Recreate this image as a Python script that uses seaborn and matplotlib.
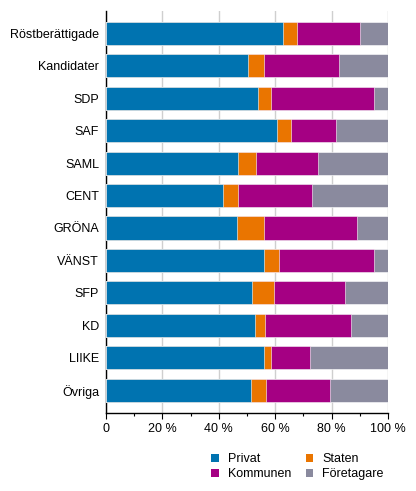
import numpy as np
import pandas as pd
import matplotlib
matplotlib.use("Agg")
import matplotlib.pyplot as plt
import seaborn as sns
from matplotlib.patches import Patch
from matplotlib.ticker import MultipleLocator, FuncFormatter

categories = ["Röstberättigade", "Kandidater", "SDP", "SAF", "SAML", "CENT",
              "GRÖNA", "VÄNST", "SFP", "KD", "LIIKE", "Övriga"]
privat = [62.8, 50.5, 54.0, 60.7, 46.7, 41.4, 46.6, 56.1, 51.8, 52.7, 56.1, 51.3]
staten = [5.1, 5.7, 4.5, 5.0, 6.5, 5.3, 9.3, 5.4, 7.9, 3.7, 2.3, 5.3]
kommunen = [22.1, 26.4, 36.6, 15.8, 22.0, 26.4, 33.0, 33.7, 25.1, 30.6, 13.8, 22.8]
foretagare = [100 - p - s - k for p, s, k in zip(privat, staten, kommunen)]
series_names = ["Privat", "Staten", "Kommunen", "Företagare"]
colors = ["#0073B0", "#EA7500", "#A50083", "#8A8A9E"]

df = pd.DataFrame({"cat": categories, "Privat": privat, "Staten": staten,
                   "Kommunen": kommunen, "Företagare": foretagare})
cum = df[series_names].cumsum(axis=1)

plt.rcParams['font.family'] = ['Liberation Sans', 'DejaVu Sans']
fig = plt.figure(figsize=(4.16, 4.91), dpi=100)
ax = fig.add_axes([0.2548, 0.1595, 0.6779, 0.8181])

for name, col in reversed(list(zip(series_names, colors))):
    sns.barplot(x=cum[name], y=df["cat"], order=categories, orient="h",
                color=col, width=0.71, ax=ax, edgecolor="white",
                linewidth=0.4, saturation=1, zorder=3)

fs = 9
ax.set_xlim(0, 100)
ax.set_ylim(11.69, -0.685)
ax.set_xlabel("")
ax.set_ylabel("")
ax.xaxis.set_major_locator(MultipleLocator(20))
ax.xaxis.set_minor_locator(MultipleLocator(10))
ax.xaxis.set_major_formatter(FuncFormatter(lambda v, p: "0" if v == 0 else f"{int(v)} %"))
ax.grid(axis="x", which="major", color="#CFCFCF", linewidth=1, zorder=0)
ax.set_axisbelow(True)
for s in ["top", "right"]:
    ax.spines[s].set_visible(False)
ax.spines["left"].set_color("black")
ax.spines["bottom"].set_color("black")
ax.spines["left"].set_linewidth(1)
ax.spines["bottom"].set_linewidth(1)
ax.tick_params(axis="y", length=0, pad=5, labelsize=fs, colors="black")
ax.tick_params(axis="x", which="major", length=4.5, width=0.8, labelsize=fs, pad=3)
ax.tick_params(axis="x", which="minor", length=2, width=0.8)

handles = [Patch(facecolor=c, edgecolor="none") for c in colors]
order = [0, 2, 1, 3]
leg = fig.legend([handles[i] for i in order], [series_names[i] for i in order],
                 ncol=2, loc="upper left", bbox_to_anchor=(0.508, 0.077),
                 frameon=False, fontsize=fs, handlelength=0.6, handleheight=0.6,
                 handletextpad=0.7, columnspacing=1.2, labelspacing=0.25,
                 borderaxespad=0, borderpad=0)

fig.savefig("out.png", dpi=100)
